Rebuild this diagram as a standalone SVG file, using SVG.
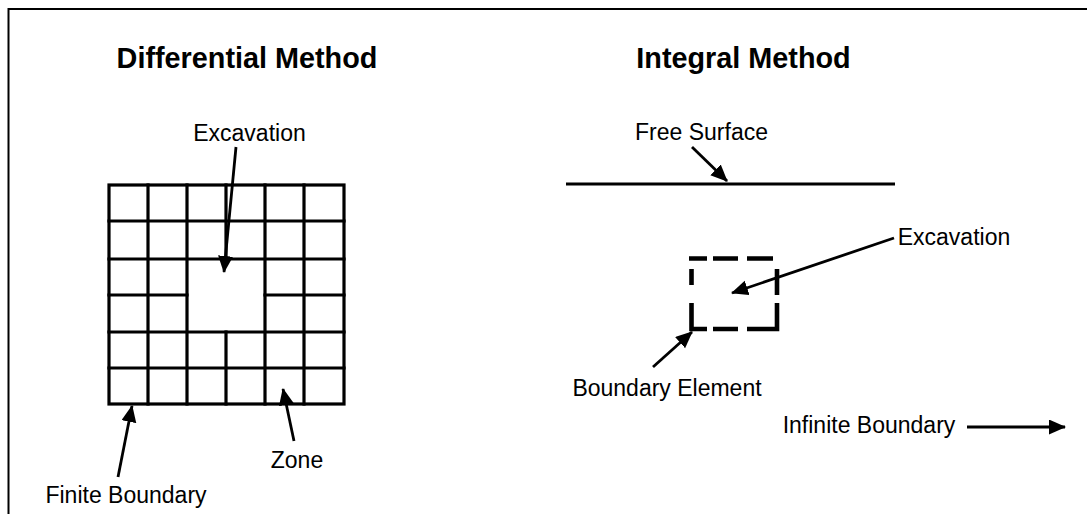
<svg xmlns="http://www.w3.org/2000/svg" width="1087" height="514" viewBox="0 0 1087 514">
<style>
.t{font-family:"Liberation Sans",Arial,sans-serif;font-size:23px;fill:#000;text-anchor:middle}
.h{font-family:"Liberation Sans",Arial,sans-serif;font-size:28.8px;font-weight:bold;fill:#000;text-anchor:middle}
.g{stroke:#000;stroke-width:3.2;fill:none;stroke-linecap:square}
.a{stroke:#000;stroke-width:2.8;fill:none;marker-end:url(#ah)}
.d{stroke:#000;stroke-width:4.6;fill:none}
</style>
<defs>
<marker id="ah" markerUnits="userSpaceOnUse" markerWidth="18" markerHeight="16" refX="16" refY="7.5" orient="auto">
<path d="M0,0 L17,7.5 L0,15 z" fill="#000"/>
</marker>
</defs>
<rect width="1087" height="514" fill="#fff"/>
<g id="frame">
<path d="M8.5,514 V9 H1087" stroke="#000" stroke-width="2" fill="none"/>
</g>
<g id="titles">
<text class="h" x="247" y="68">Differential Method</text>
<text class="h" x="743.5" y="68">Integral Method</text>
</g>
<g id="grid-mesh">
<rect class="g" x="109" y="185" width="235" height="219"/>
<line class="g" x1="148" y1="185" x2="148" y2="404"/>
<line class="g" x1="187" y1="185" x2="187" y2="404"/>
<line class="g" x1="226" y1="185" x2="226" y2="259"/>
<line class="g" x1="226" y1="332" x2="226" y2="404"/>
<line class="g" x1="265" y1="185" x2="265" y2="404"/>
<line class="g" x1="304" y1="185" x2="304" y2="404"/>
<line class="g" x1="109" y1="221" x2="344" y2="221"/>
<line class="g" x1="109" y1="259" x2="344" y2="259"/>
<line class="g" x1="109" y1="295" x2="187" y2="295"/>
<line class="g" x1="265" y1="295" x2="344" y2="295"/>
<line class="g" x1="109" y1="332" x2="344" y2="332"/>
<line class="g" x1="109" y1="368" x2="344" y2="368"/>
</g>
<g id="free-surface">
<line x1="566" y1="184" x2="895" y2="184" stroke="#000" stroke-width="3"/>
</g>
<g id="boundary-element">
<path class="d" d="M689,258.5 H707 M713,258.5 H738 M747,258.5 H773 M691.5,269 V285 M691.5,303 V331.3 M689.2,329 H707 M713,329 H738 M747,329 H779.3 M777,269 V295 M777,303 V331"/>
</g>
<g id="labels">
<text class="t" x="249.5" y="141">Excavation</text>
<text class="t" x="126" y="503">Finite Boundary</text>
<text class="t" x="297" y="468">Zone</text>
<text class="t" x="701.5" y="140">Free Surface</text>
<text class="t" x="954" y="245">Excavation</text>
<text class="t" x="667" y="396">Boundary Element</text>
<text class="t" x="869" y="433">Infinite Boundary</text>
</g>
<g id="connectors">
<line class="a" x1="236" y1="147" x2="224" y2="272"/>
<line class="a" x1="118" y1="477" x2="132" y2="406"/>
<line class="a" x1="294" y1="441" x2="283" y2="389"/>
<line class="a" x1="692" y1="147" x2="727" y2="181"/>
<line class="a" x1="894" y1="238" x2="732" y2="293"/>
<line class="a" x1="653" y1="367" x2="692" y2="332"/>
<line class="a" x1="967" y1="427" x2="1065" y2="427" stroke-width="2"/>
</g>
</svg>
